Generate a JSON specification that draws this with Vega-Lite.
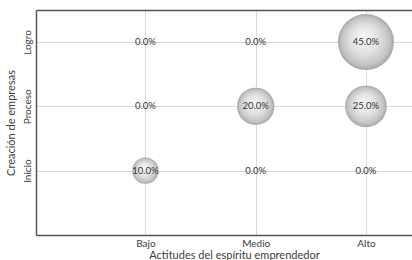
{
  "$schema": "https://vega.github.io/schema/vega-lite/v6.json",
  "autosize": "none",
  "width": 376,
  "height": 225,
  "padding": {"left": 36, "top": 10, "right": 0, "bottom": 25},
  "background": "white",
  "config": {
    "view": {"stroke": null},
    "font": "Lato",
    "axis": {"gridColor": "#d9d9d9", "gridWidth": 1, "domainColor": "#555555", "domainWidth": 1.5, "labelColor": "#404040", "titleColor": "#404040", "labelFont": "Lato", "titleFont": "Lato", "titleFontWeight": "normal", "ticks": false}
  },
  "data": {"values": [
    {"actitud": "Bajo", "creacion": "Logro", "valor": 0.0},
    {"actitud": "Medio", "creacion": "Logro", "valor": 0.0},
    {"actitud": "Alto", "creacion": "Logro", "valor": 0.45},
    {"actitud": "Bajo", "creacion": "Proceso", "valor": 0.0},
    {"actitud": "Medio", "creacion": "Proceso", "valor": 0.20},
    {"actitud": "Alto", "creacion": "Proceso", "valor": 0.25},
    {"actitud": "Bajo", "creacion": "Inicio", "valor": 0.10},
    {"actitud": "Medio", "creacion": "Inicio", "valor": 0.0},
    {"actitud": "Alto", "creacion": "Inicio", "valor": 0.0}
  ]},
  "resolve": {"axis": {"x": "independent"}},
  "layer": [
    {
      "mark": {"type": "point", "shape": "circle", "filled": true, "opacity": 1, "strokeWidth": 0,
        "fill": {"gradient": "radial", "x1": 0.45, "y1": 0.4, "r1": 0, "x2": 0.5, "y2": 0.5, "r2": 0.5,
          "stops": [{"offset": 0, "color": "#f8f8f8"}, {"offset": 0.5, "color": "#e2e2e2"}, {"offset": 0.85, "color": "#c4c4c4"}, {"offset": 1, "color": "#a6a6a6"}]}},
      "encoding": {
        "x": {"field": "actitud", "type": "nominal",
          "scale": {"type": "point", "domain": ["Bajo", "Medio", "Alto"], "padding": 0.705, "align": 0.704},
          "axis": {"title": "Actitudes del espíritu emprendedor", "grid": true, "labelAngle": 0, "labelFontSize": 10, "labelPadding": 3, "titleFontSize": 11, "titlePadding": 1, "titleX": 198}},
        "y": {"field": "creacion", "type": "nominal",
          "scale": {"type": "point", "domain": ["Logro", "Proceso", "Inicio"], "padding": 0.75, "align": 0.332},
          "axis": {"title": "Creación de empresas", "grid": true, "labelAngle": -90, "labelAlign": "center", "labelBaseline": "bottom", "labelFontSize": 10, "labelPadding": 4, "titleFontSize": 11, "titlePadding": 6}},
        "size": {"field": "valor", "type": "quantitative", "legend": null, "scale": {"type": "linear", "zero": true, "domain": [0, 0.45], "range": [0, 3136]}}
      }
    },
    {
      "mark": {"type": "text", "fontSize": 9.5, "color": "#333333", "font": "Lato"},
      "encoding": {
        "x": {"field": "actitud", "type": "nominal", "axis": {"orient": "top", "labels": false, "title": null, "grid": false, "domain": true}},
        "y": {"field": "creacion", "type": "nominal"},
        "text": {"field": "valor", "type": "quantitative", "format": ".1%"}
      }
    }
  ]
}
